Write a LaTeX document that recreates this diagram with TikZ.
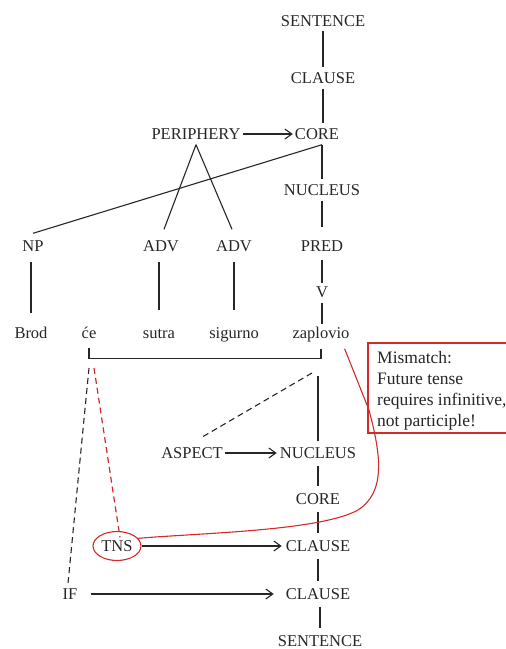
\documentclass[tikz,border=0pt]{standalone}
\usepackage{fontspec}
\setmainfont{Liberation Serif}
\usetikzlibrary{arrows.meta,shapes.geometric}
\definecolor{ink}{HTML}{262626}
\definecolor{alert}{HTML}{D42A2A}
\begin{document}
\begin{tikzpicture}[x=1pt,y=-1pt,
  lbl/.style={text=ink,font=\fontsize{16.5}{19}\selectfont,text height=11pt,text depth=0pt,inner xsep=2pt,inner ysep=5pt},
  edge/.style={draw=ink,line width=1.1pt},
  arr/.style={edge,-{Straight Barb[length=7pt,width=10pt,line width=1.1pt]}},
  dashedge/.style={edge,dash pattern=on 6pt off 4pt},
  rdash/.style={draw=alert,line width=1.2pt,dash pattern=on 6pt off 4pt},
  ring/.style={draw=alert,line width=1.1pt}]
\useasboundingbox (0,0) rectangle (506,649);

% upper tree
\node[lbl] (S1) at (323,20.5) {SENTENCE};
\node[lbl] (CL1) at (323,78) {CLAUSE};
\node[lbl] (PER) at (196,134) {PERIPHERY};
\node[lbl] (CO1) at (317,134) {CORE};
\node[lbl] (NU1) at (322,190) {NUCLEUS};
\node[lbl] (NP) at (33,246) {NP};
\node[lbl] (ADVa) at (161,246) {ADV};
\node[lbl] (ADVb) at (234,246) {ADV};
\node[lbl] (PRED) at (322,246) {PRED};
\node[lbl] (V) at (322,292) {V};

% words
\node[lbl] (brod) at (31,333) {Brod};
\node[lbl] (ce) at (89,333) {će};
\node[lbl] (sutra) at (159,333) {sutra};
\node[lbl] (sig) at (234,333) {sigurno};
\node[lbl] (zap) at (321,333) {zaplovio};

% lower tree
\node[lbl] (ASP) at (192,453) {ASPECT};
\node[lbl] (NU2) at (318,453) {NUCLEUS};
\node[lbl] (CO2) at (318,499) {CORE};
\node[lbl] (TNS) at (117,546) {TNS};
\node[lbl] (CL2) at (318,546) {CLAUSE};
\node[lbl] (IF) at (70,594) {IF};
\node[lbl] (CL3) at (318,594) {CLAUSE};
\node[lbl] (S2) at (320,641) {SENTENCE};

% connectors of the upper tree
\draw[edge] (S1.south -| CL1.north) -- (CL1.north);
\draw[edge] (CL1.south) -- (CL1.south |- CO1.north);
\draw[arr] (PER.east) -- (CO1.west);
\draw[edge] (NU1.north |- CO1.south) -- (NU1.north);
\draw[edge] (NU1.north |- CO1.south) -- ([yshift=2pt]NP.north);
\draw[edge] (PER.south) -- ([xshift=3pt,yshift=6pt]ADVa.north);
\draw[edge] (PER.south) -- ([xshift=-2pt,yshift=6pt]ADVb.north);
\draw[edge] (NU1.south) -- ([yshift=8pt]PRED.north);
\draw[edge,shorten <=3pt] (PRED.south) -- ([yshift=-2pt]V.north);
\draw[edge,shorten <=5pt,shorten >=9pt] (NP.south -| brod.north) -- (brod.north);
\draw[edge,shorten <=5pt,shorten >=12pt] (ADVa.south -| sutra.north) -- (sutra.north);
\draw[edge,shorten <=5pt,shorten >=12pt] (ADVb.south) -- (sig.north);
\draw[edge,shorten >=-2pt] (V.south) -- (V.south |- zap.north);

% bracket joining the verb complex
\draw[edge] ([yshift=-4pt]ce.south) -- ([yshift=-15pt]ce.south)
  -| ([yshift=-5pt]zap.south);
\coordinate (ceL) at (89,368);
\coordinate (ceR) at (94,368);
\coordinate (zL) at (312,373);
\coordinate (zR) at (318,376);

% connectors of the lower tree
\draw[dashedge] (zL) -- ([xshift=8pt,yshift=4pt]ASP.north);
\draw[edge] (zR) -- ([yshift=1pt]NU2.north);
\draw[arr,shorten >=1pt] (ASP.east) -- (NU2.west);
\draw[edge,shorten <=2pt,shorten >=2pt] (NU2.south) -- (CO2.north);
\draw[edge,shorten <=2pt,shorten >=2pt] (CO2.south) -- (CL2.north);
\draw[edge,shorten <=2pt,shorten >=2pt] (CL2.south) -- (CL3.north);
\draw[edge,shorten <=2pt,shorten >=2pt] (CL3.south -| S2.north) -- (S2.north);
\draw[dashedge] (ceL) -- ([xshift=-2pt]IF.north);
\draw[rdash] (ceR) -- ([xshift=3pt,yshift=-2pt]TNS.north);

% tense marker and its links
\node[ring,ellipse,minimum width=48pt,minimum height=29pt,inner sep=0pt] (TNSring) at (TNS) {};
\draw[arr,shorten >=2pt] (TNSring.east) -- (CL2.west);
\draw[arr,shorten <=11pt,shorten >=10pt] (IF.east) -- (CL3.west);

% mismatch note
\draw[ring] (507,343) -- (368,343) -- (368,433) -- (507,433);
\node[anchor=north west,align=left,inner sep=0pt,text=ink,
  font=\fontsize{17.5}{21}\selectfont] (note) at (377,351)
  {Mismatch:\\Future tense\\requires infinitive,\\not participle!};
\draw[ring] ([xshift=-7pt,yshift=-5pt]zap.south east) -- (369,410)
  .. controls (381,455) and (386,492) .. (358,510)
  .. controls (320,531) and (200,533) .. (TNSring.20);
\end{tikzpicture}
\end{document}
